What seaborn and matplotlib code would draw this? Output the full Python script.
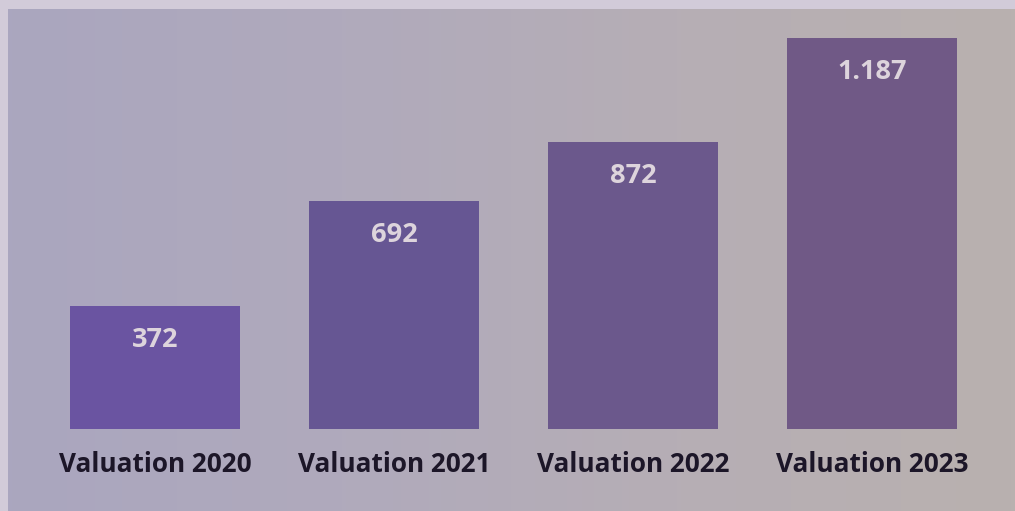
import matplotlib.pyplot as plt
import numpy as np
import seaborn as sns
from matplotlib.colors import LinearSegmentedColormap

categories = ["Valuation 2020", "Valuation 2021", "Valuation 2022", "Valuation 2023"]
values = [372, 692, 872, 1187]
value_labels = ["372", "692", "872", "1.187"]

bar_colors = ["#6a54a1", "#665693", "#6b588c", "#705986"]

sns.set_style("white")
plt.rcParams["font.family"] = ["Open Sans", "DejaVu Sans"]

fig = plt.figure(figsize=(10.15, 5.11), dpi=100)
fig.patch.set_facecolor("#d2cbd9")

# photo-like backdrop approximated by a soft horizontal gradient
bg = fig.add_axes([8 / 1015, 0, 1 - 8 / 1015, 1 - 9 / 511])
bg_cmap = LinearSegmentedColormap.from_list("bg", ["#aaa6bf", "#b0aabc", "#b6aeb5", "#b9b1af"])
bg.imshow(np.linspace(0, 1, 256)[None, :], aspect="auto", cmap=bg_cmap, extent=[0, 1, 0, 1])
bg.axis("off")

ax = fig.add_axes([35.5 / 1015, 82 / 511, 956.5 / 1015, 411.75 / 511])
ax.patch.set_alpha(0)
sns.barplot(x=categories, y=values, hue=categories, palette=bar_colors, legend=False,
            width=0.711, saturation=1, linewidth=0, edgecolor="none", ax=ax)
ax.set_xlim(-0.5, 3.5)
ax.set_ylim(0, 1250)

for i, (v, lab) in enumerate(zip(values, value_labels)):
    ax.annotate(lab, (i, v), xytext=(0, -34), textcoords="offset pixels",
                ha="center", va="center", fontsize=19.5, fontweight="bold", color="#ddd4dc")

ax.set_xticks(range(len(categories)))
ax.set_xticklabels(categories, fontsize=18.8, fontweight="bold", color="#1c1628")
ax.tick_params(axis="x", length=0, pad=16)
ax.set_yticks([])
ax.set_xlabel("")
ax.set_ylabel("")
sns.despine(ax=ax, left=True, bottom=True)

fig.savefig("out.png", dpi=100)
